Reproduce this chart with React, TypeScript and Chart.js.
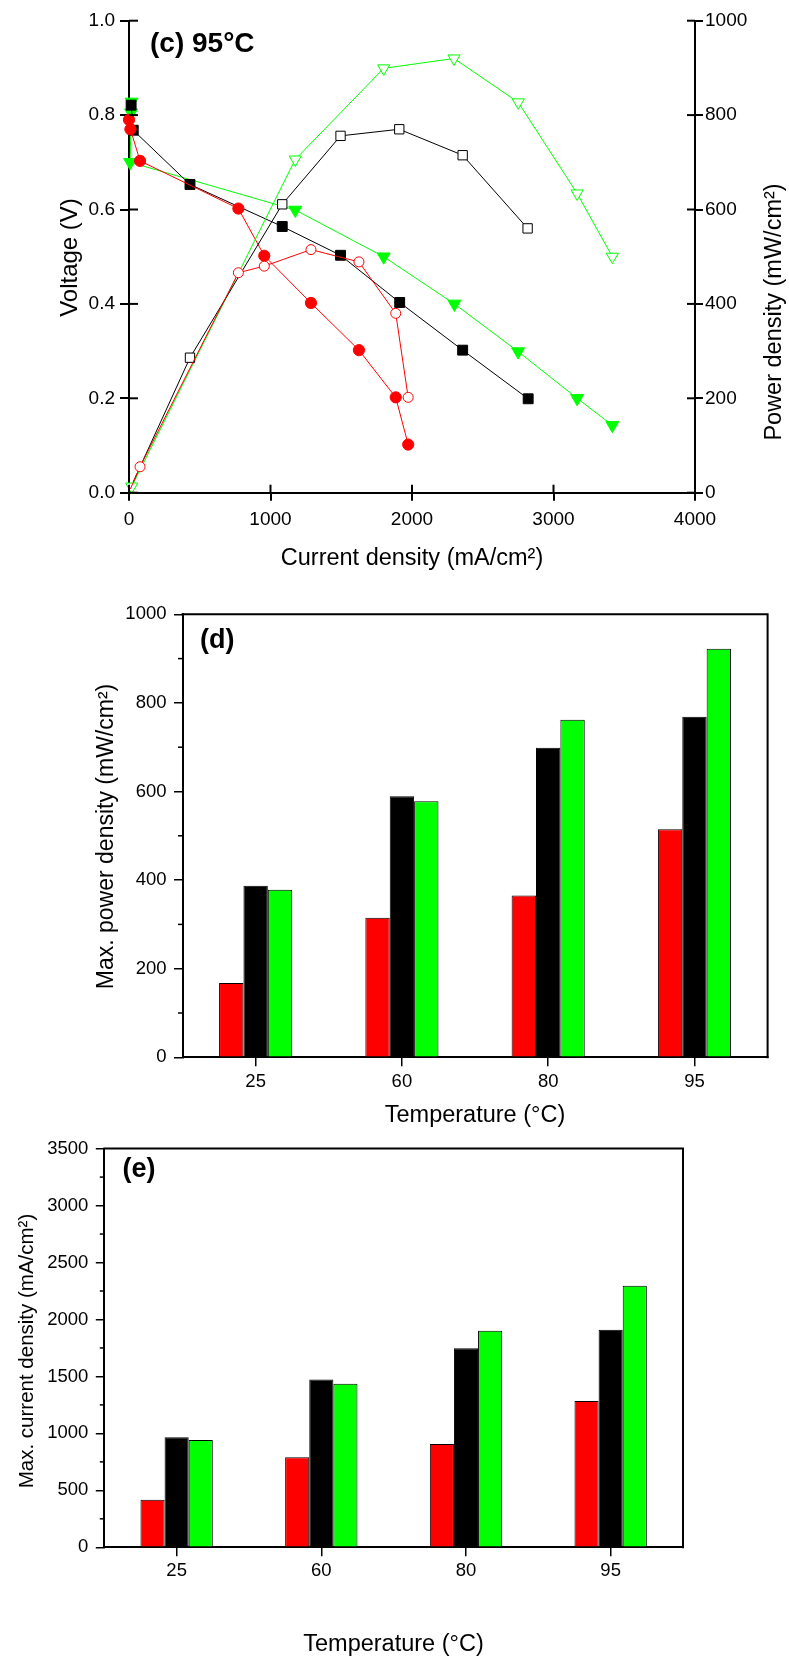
import React, { useEffect, useRef } from 'react';
import { Chart, registerables } from 'chart.js';
Chart.register(...registerables);

const FONT = 'Arial, "Liberation Sans", Helvetica, sans-serif';

// ---------- Panel (c): polarization (V) and power density (P) vs current density ----------
const redI = [0, 10, 78, 773, 956, 1286, 1625, 1885, 1973];
const redV = [0.79, 0.77, 0.703, 0.602, 0.502, 0.402, 0.302, 0.202, 0.102];
const redPI = [10, 78, 773, 956, 1286, 1625, 1885, 1973];
const redP = [8, 55, 466, 480, 515, 489, 380, 202];

const blackI = [15, 30, 431, 1083, 1495, 1913, 2358, 2821];
const blackV = [0.821, 0.768, 0.653, 0.564, 0.503, 0.403, 0.302, 0.199];
const blackPI = [30, 431, 1083, 1495, 1910, 2358, 2817];
const blackP = [23, 286, 611, 756, 770, 715, 560];

const greenI = [18, 15, 8, 1175, 1800, 2300, 2750, 3167, 3416];
const greenV = [0.828, 0.805, 0.7, 0.599, 0.5, 0.4, 0.299, 0.2, 0.143];
const greenPI = [19, 1175, 1800, 2297, 2751, 3167, 3416];
const greenP = [13, 706, 899, 920, 827, 634, 500];

// ---------- Panels (d) and (e) ----------
const temperatures = ['25', '60', '80', '95'];
const maxPowerRed = [168, 315, 365, 515];
const maxPowerBlack = [387, 589, 699, 769];
const maxPowerGreen = [378, 578, 762, 922];
const maxCurrRed = [418, 790, 907, 1285];
const maxCurrBlack = [965, 1474, 1747, 1910];
const maxCurrGreen = [942, 1436, 1901, 2296];
const minorPower = [100, 300, 500, 700, 900];
const minorCurr = [250, 750, 1250, 1750, 2250, 2750, 3250];

const RED = '#FF0000';
const BLACK = '#000000';
const GREEN = '#00FF00';

type Txt = { t: string; x: number; y: number; size: number; bold?: boolean; rot?: boolean; align?: CanvasTextAlign };
type DecorCfg = {
  inward?: { scale: string; len: number; width: number }[];
  minor?: { scale: string; values: number[]; len: number; width: number }[];
  frame?: number;
  texts: Txt[];
};

function decorPlugin(cfg: DecorCfg) {
  return {
    id: 'decor',
    afterDraw(chart: any) {
      const ctx: CanvasRenderingContext2D = chart.ctx;
      const a = chart.chartArea;
      ctx.save();
      ctx.strokeStyle = '#000';
      ctx.fillStyle = '#000';
      if (cfg.frame) {
        ctx.lineWidth = cfg.frame;
        ctx.beginPath();
        ctx.moveTo(a.left - 1, a.top);
        ctx.lineTo(a.right, a.top);
        ctx.lineTo(a.right, a.bottom + 1);
        ctx.stroke();
      }
      for (const inw of cfg.inward || []) {
        const s = chart.scales[inw.scale];
        ctx.lineWidth = inw.width;
        for (const tk of s.ticks) {
          const p = s.getPixelForValue(tk.value);
          ctx.beginPath();
          if (s.axis === 'x') {
            ctx.moveTo(p, a.bottom);
            ctx.lineTo(p, a.bottom - inw.len);
          } else if (s.position === 'left') {
            ctx.moveTo(a.left, p);
            ctx.lineTo(a.left + inw.len, p);
          } else {
            ctx.moveTo(a.right, p);
            ctx.lineTo(a.right - inw.len, p);
          }
          ctx.stroke();
        }
      }
      for (const mn of cfg.minor || []) {
        const s = chart.scales[mn.scale];
        ctx.lineWidth = mn.width;
        for (const v of mn.values) {
          const p = s.getPixelForValue(v);
          ctx.beginPath();
          ctx.moveTo(a.left, p);
          ctx.lineTo(a.left - mn.len, p);
          ctx.stroke();
        }
      }
      for (const tx of cfg.texts) {
        ctx.font = `${tx.bold ? 'bold ' : ''}${tx.size}px ${FONT}`;
        ctx.textAlign = tx.align || 'center';
        ctx.textBaseline = 'alphabetic';
        ctx.save();
        ctx.translate(tx.x, tx.y);
        if (tx.rot) ctx.rotate(-Math.PI / 2);
        ctx.fillText(tx.t, 0, 0);
        ctx.restore();
      }
      ctx.restore();
    },
  };
}

function pts(xs: number[], ys: number[]) {
  return xs.map((x, i) => ({ x, y: ys[i] }));
}

function lineDs(xs: number[], ys: number[], color: string, style: string, filled: boolean, radius: number | number[], axis: string, rot = 0) {
  return {
    data: pts(xs, ys),
    yAxisID: axis,
    borderColor: color,
    borderWidth: 1,
    backgroundColor: color,
    pointStyle: style,
    pointRotation: rot,
    pointRadius: radius,
    pointBackgroundColor: filled ? color : '#FFFFFF',
    pointBorderColor: color,
    pointBorderWidth: 1,
    tension: 0,
    clip: false,
  };
}

function makePanelC(): any {
  const tickFont = { family: FONT, size: 19 };
  return {
    type: 'line',
    data: {
      datasets: [
        lineDs(redPI, redP, RED, 'circle', false, [0, 5, 5, 5, 5, 5, 5, 5], 'y2'),
        lineDs(blackPI, blackP, BLACK, 'rect', false, [0, 6.6, 6.6, 6.6, 6.6, 6.6, 6.6], 'y2'),
        lineDs(greenPI, greenP, GREEN, 'triangle', false, 7, 'y2', 180),
        lineDs(redI, redV, RED, 'circle', true, 5.6, 'y'),
        lineDs(blackI, blackV, BLACK, 'rect', true, 7, 'y'),
        lineDs(greenI, greenV, GREEN, 'triangle', true, 7.5, 'y', 180),
      ],
    },
    options: {
      animation: false,
      responsive: false,
      devicePixelRatio: 1,
      layout: { padding: { top: 20.7, left: 0, right: 0, bottom: 0 } },
      plugins: { legend: { display: false }, tooltip: { enabled: false } },
      scales: {
        x: {
          type: 'linear', position: 'bottom', min: 0, max: 4000,
          ticks: { stepSize: 1000, font: tickFont, color: '#000', padding: 8, maxRotation: 0, callback: (v: any) => String(v) },
          grid: { drawOnChartArea: false, drawTicks: true, tickLength: 8, color: '#000', lineWidth: 2 },
          border: { display: true, color: '#000', width: 2 },
          afterFit: (s: any) => { s.height = 87.3; },
        },
        y: {
          type: 'linear', position: 'left', min: 0, max: 1,
          ticks: { stepSize: 0.2, font: tickFont, color: '#000', padding: 5, callback: (v: any) => Number(v).toFixed(1) },
          grid: { drawOnChartArea: false, drawTicks: true, tickLength: 9, color: '#000', lineWidth: 2 },
          border: { display: true, color: '#000', width: 2 },
          afterFit: (s: any) => { s.width = 129; },
        },
        y2: {
          type: 'linear', position: 'right', min: 0, max: 1000,
          ticks: { stepSize: 200, font: tickFont, color: '#000', padding: 2, callback: (v: any) => String(v) },
          grid: { drawOnChartArea: false, drawTicks: true, tickLength: 8, color: '#000', lineWidth: 2 },
          border: { display: true, color: '#000', width: 2 },
          afterFit: (s: any) => { s.width = 94; },
        },
      },
    },
    plugins: [
      decorPlugin({
        inward: [
          { scale: 'x', len: 8, width: 2 },
          { scale: 'y', len: 9, width: 2 },
          { scale: 'y2', len: 8, width: 2 },
        ],
        texts: [
          { t: '(c) 95°C', x: 150, y: 51.7, size: 28, bold: true, align: 'left' },
          { t: 'Voltage (V)', x: 77, y: 257.5, size: 24, rot: true },
          { t: 'Power density (mW/cm²)', x: 781, y: 312, size: 23.5, rot: true },
          { t: 'Current density (mA/cm²)', x: 412, y: 565, size: 23.5 },
        ],
      }),
    ],
  };
}

function makeBarPanel(vals: number[][], yMax: number, yStep: number, minor: number[], padTop: number, yWidth: number, padRight: number, xHeight: number, tickPadX: number, texts: Txt[]): any {
  const tickFont = { family: FONT, size: 18.5 };
  const colors = [RED, BLACK, GREEN];
  return {
    type: 'bar',
    data: {
      labels: temperatures,
      datasets: vals.map((v, i) => ({
        data: v,
        backgroundColor: colors[i],
        borderColor: '#000',
        borderWidth: 1,
        categoryPercentage: 0.5,
        barPercentage: 1.0,
      })),
    },
    options: {
      animation: false,
      responsive: false,
      devicePixelRatio: 1,
      layout: { padding: { top: padTop, left: 0, right: padRight, bottom: 0 } },
      plugins: { legend: { display: false }, tooltip: { enabled: false } },
      scales: {
        x: {
          type: 'category', offset: true,
          ticks: { font: tickFont, color: '#000', padding: tickPadX, maxRotation: 0 },
          grid: { offset: false, drawOnChartArea: false, drawTicks: true, tickLength: 9, color: '#000', lineWidth: 1.5 },
          border: { display: true, color: '#000', width: 2 },
          afterFit: (s: any) => { s.height = xHeight; },
        },
        y: {
          type: 'linear', min: 0, max: yMax,
          ticks: { stepSize: yStep, font: tickFont, color: '#000', padding: 7.5, callback: (v: any) => String(v) },
          grid: { drawOnChartArea: false, drawTicks: true, tickLength: 8.5, color: '#000', lineWidth: 1.5 },
          border: { display: true, color: '#000', width: 2 },
          afterFit: (s: any) => { s.width = yWidth; },
        },
      },
    },
    plugins: [
      decorPlugin({
        frame: 2,
        minor: [{ scale: 'y', values: minor, len: 4.5, width: 1.5 }],
        texts,
      }),
    ],
  };
}

function makePanelD(): any {
  return makeBarPanel(
    [maxPowerRed, maxPowerBlack, maxPowerGreen], 1000, 200, minorPower,
    34.3, 182.5, 21.4, 72.7, 5,
    [
      { t: '(d)', x: 200, y: 68.3, size: 27, bold: true, align: 'left' },
      { t: 'Max. power density (mW/cm²)', x: 112.5, y: 256.5, size: 23, rot: true },
      { t: 'Temperature (°C)', x: 475, y: 541.7, size: 23.5 },
    ],
  );
}

function makePanelE(): any {
  return makeBarPanel(
    [maxCurrRed, maxCurrBlack, maxCurrGreen], 3500, 500, minorCurr,
    16, 104.3, 106, 118.7, 4,
    [
      { t: '(e)', x: 122.5, y: 47.3, size: 27, bold: true, align: 'left' },
      { t: 'Max. current density (mA/cm²)', x: 32.5, y: 221, size: 20.5, rot: true },
      { t: 'Temperature (°C)', x: 393.5, y: 521, size: 23.5 },
    ],
  );
}

function ChartCanvas({ top, height, make }: { top: number; height: number; make: () => any }) {
  const ref = useRef<HTMLCanvasElement>(null);
  useEffect(() => {
    const chart = new Chart(ref.current as HTMLCanvasElement, make());
    return () => chart.destroy();
  }, []);
  return (
    <canvas
      ref={ref}
      width={789}
      height={height}
      style={{ position: 'absolute', left: 0, top, width: 789, height, display: 'block' }}
    />
  );
}

export default function App() {
  return (
    <div style={{ position: 'absolute', left: 0, top: 0, width: 789, height: 1666, background: '#FFFFFF', overflow: 'hidden' }}>
      <ChartCanvas top={0} height={580} make={makePanelC} />
      <ChartCanvas top={580} height={550} make={makePanelD} />
      <ChartCanvas top={1130} height={536} make={makePanelE} />
    </div>
  );
}
